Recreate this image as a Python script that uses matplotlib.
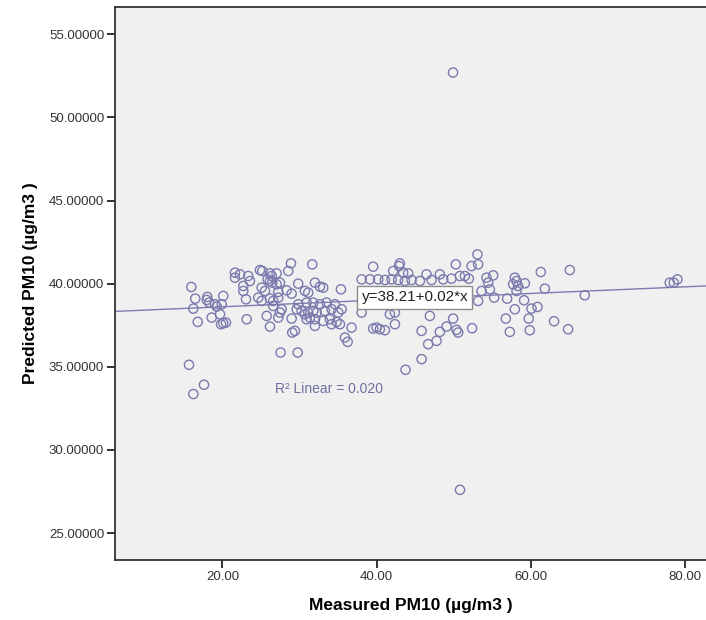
import matplotlib
matplotlib.use("Agg")
import matplotlib.pyplot as plt
import numpy as np

plt.rcParams["font.family"] = ["Liberation Sans", "DejaVu Sans"]

# measured vs predicted PM10 (ug/m3)
measured = [
    15.96, 16.47, 16.22, 16.79, 18.03, 17.95, 18.29, 19.03, 19.25, 20.10,
    19.90, 19.68, 18.60, 20.10, 19.81, 20.45, 21.62, 21.62, 22.27, 23.34,
    23.56, 22.70, 22.70, 23.05, 23.14, 15.66, 16.22, 17.60,
    28.88, 31.64, 28.53, 24.86, 25.16, 26.16, 27.02, 26.38, 25.86, 26.16,
    26.45, 27.02, 27.45, 25.08, 25.51, 29.82, 31.99, 32.64, 33.06, 35.36,
    27.23, 28.32, 28.97, 30.69, 31.12, 24.64, 25.08, 26.16, 26.58, 26.58,
    27.23, 29.82, 30.91, 31.77, 32.64, 33.50, 34.58, 34.15, 27.67, 27.45,
    29.62, 30.26, 30.69, 31.12, 31.77, 32.21, 33.28, 35.45, 35.01, 25.73,
    27.23, 28.97, 30.91, 31.34, 31.99, 33.06, 33.93, 34.80, 26.16, 31.99,
    34.15, 35.23, 36.74, 29.40, 29.05, 35.88, 36.23, 27.54, 29.75,
    43.00, 42.91, 50.26, 39.54, 42.14, 43.43, 44.08, 38.04, 39.12, 40.19,
    41.06, 41.93, 42.78, 43.65, 44.52, 45.60, 46.46, 47.11, 48.19, 48.62,
    49.70, 50.78, 38.04, 41.71, 42.36, 46.89, 49.91, 39.54, 39.98, 40.41,
    41.06, 42.36, 45.82, 48.19, 49.06, 50.35, 50.56, 47.76, 46.67, 45.82,
    43.74,
    53.07, 53.15, 52.30, 51.43, 51.95, 54.24, 55.10, 54.45, 54.67, 53.59,
    53.15, 57.91, 58.13, 57.69, 58.34, 59.21, 58.13, 61.28, 65.04, 61.80,
    55.23, 56.91, 59.11, 57.91, 60.07, 60.85, 56.74, 59.72, 63.00, 64.82,
    52.37, 57.26, 59.85,
    66.98, 78.00, 78.52, 78.99,
    50.80, 49.90,
]
predicted = [
    39.80, 39.10, 38.50, 37.70, 39.20, 39.02, 38.86, 38.76, 38.62, 39.26,
    38.76, 38.16, 37.96, 37.62, 37.56, 37.66, 40.66, 40.36, 40.56, 40.46,
    40.16, 39.86, 39.56, 39.06, 37.86, 35.12, 33.36, 33.92,
    41.22, 41.16, 40.76, 40.82, 40.76, 40.62, 40.62, 40.46, 40.26, 40.16,
    40.06, 39.96, 40.06, 39.76, 39.56, 40.00, 40.06, 39.82, 39.76, 39.66,
    39.50, 39.60, 39.40, 39.56, 39.46, 39.16, 38.96, 39.10, 38.96, 38.66,
    39.16, 38.76, 38.86, 38.86, 38.76, 38.86, 38.76, 38.46, 38.46, 38.26,
    38.46, 38.36, 38.16, 38.26, 38.36, 38.26, 38.36, 38.46, 38.26, 38.06,
    37.96, 37.90, 37.86, 37.96, 37.86, 37.76, 37.86, 37.70, 37.42, 37.46,
    37.56, 37.56, 37.36, 37.16, 37.06, 36.76, 36.50, 35.86, 35.86,
    41.22, 41.06, 41.16, 41.02, 40.76, 40.66, 40.62, 40.26, 40.26, 40.26,
    40.22, 40.26, 40.22, 40.16, 40.22, 40.16, 40.56, 40.22, 40.56, 40.26,
    40.30, 40.46, 38.26, 38.16, 38.26, 38.06, 37.90, 37.30, 37.36, 37.26,
    37.20, 37.56, 37.16, 37.10, 37.42, 37.22, 37.06, 36.56, 36.36, 35.46,
    34.82,
    41.76, 41.16, 41.06, 40.46, 40.30, 40.36, 40.50, 40.06, 39.66, 39.56,
    38.96, 40.36, 40.16, 39.96, 39.86, 40.02, 39.56, 40.70, 40.82, 39.70,
    39.16, 39.10, 39.00, 38.46, 38.50, 38.60, 37.90, 37.90, 37.74, 37.26,
    37.32, 37.10, 37.20,
    39.30, 40.06, 40.06, 40.26,
    27.60, 52.70,
]

# fitted line as reported by the fit
intercept = 38.21
slope = 0.02
r_squared = 0.020

x_ticks = [20, 40, 60, 80]
y_ticks = [25, 30, 35, 40, 45, 50, 55]

point_color = "#7a7aae"

fig = plt.figure(figsize=(7.06, 6.2), dpi=100)
ax = fig.add_axes([0.1633, 0.0968, 0.8367, 0.8919])
ax.set_facecolor("#f0f0f0")

ax.scatter(measured, predicted, s=44, facecolors="none", edgecolors=point_color,
           linewidths=1.0, zorder=3)

ax.set_xlim(6.1, 82.7)
ax.set_ylim(23.38, 56.64)

xs = np.array(ax.get_xlim())
ax.plot(xs, intercept + slope * xs, color="#7c7cb0", lw=1.0, zorder=2)

ax.text(44.95, 39.18, f"y={intercept:.2f}+{slope:.2f}*x", fontsize=11,
        ha="center", va="center", color="#222222", zorder=5,
        bbox=dict(boxstyle="square,pad=0.28", fc="white", ec="#8c8c8c", lw=1.0))
ax.text(26.8, 33.66, f"R² Linear = {r_squared:.3f}", fontsize=10,
        ha="left", va="center", color="#7070a0", zorder=5)

ax.set_xticks(x_ticks)
ax.set_xticklabels([f"{v:.2f}" for v in x_ticks])
ax.set_yticks(y_ticks)
ax.set_yticklabels([f"{v:.5f}" for v in y_ticks])
ax.tick_params(direction="out", length=6, width=1.3, color="#222222",
               labelsize=9.5, labelcolor="#333333", pad=2)

for side in ("left", "bottom", "top"):
    ax.spines[side].set_color("#333333")
    ax.spines[side].set_linewidth(1.3)
ax.spines["right"].set_visible(False)

ax.set_xlabel("Measured PM10 (µg/m3 )", fontsize=12.5, fontweight="bold",
              labelpad=11)
ax.set_ylabel("Predicted PM10 (µg/m3 )", fontsize=12.5, fontweight="bold",
              labelpad=8)

fig.savefig("out.png", dpi=100)
